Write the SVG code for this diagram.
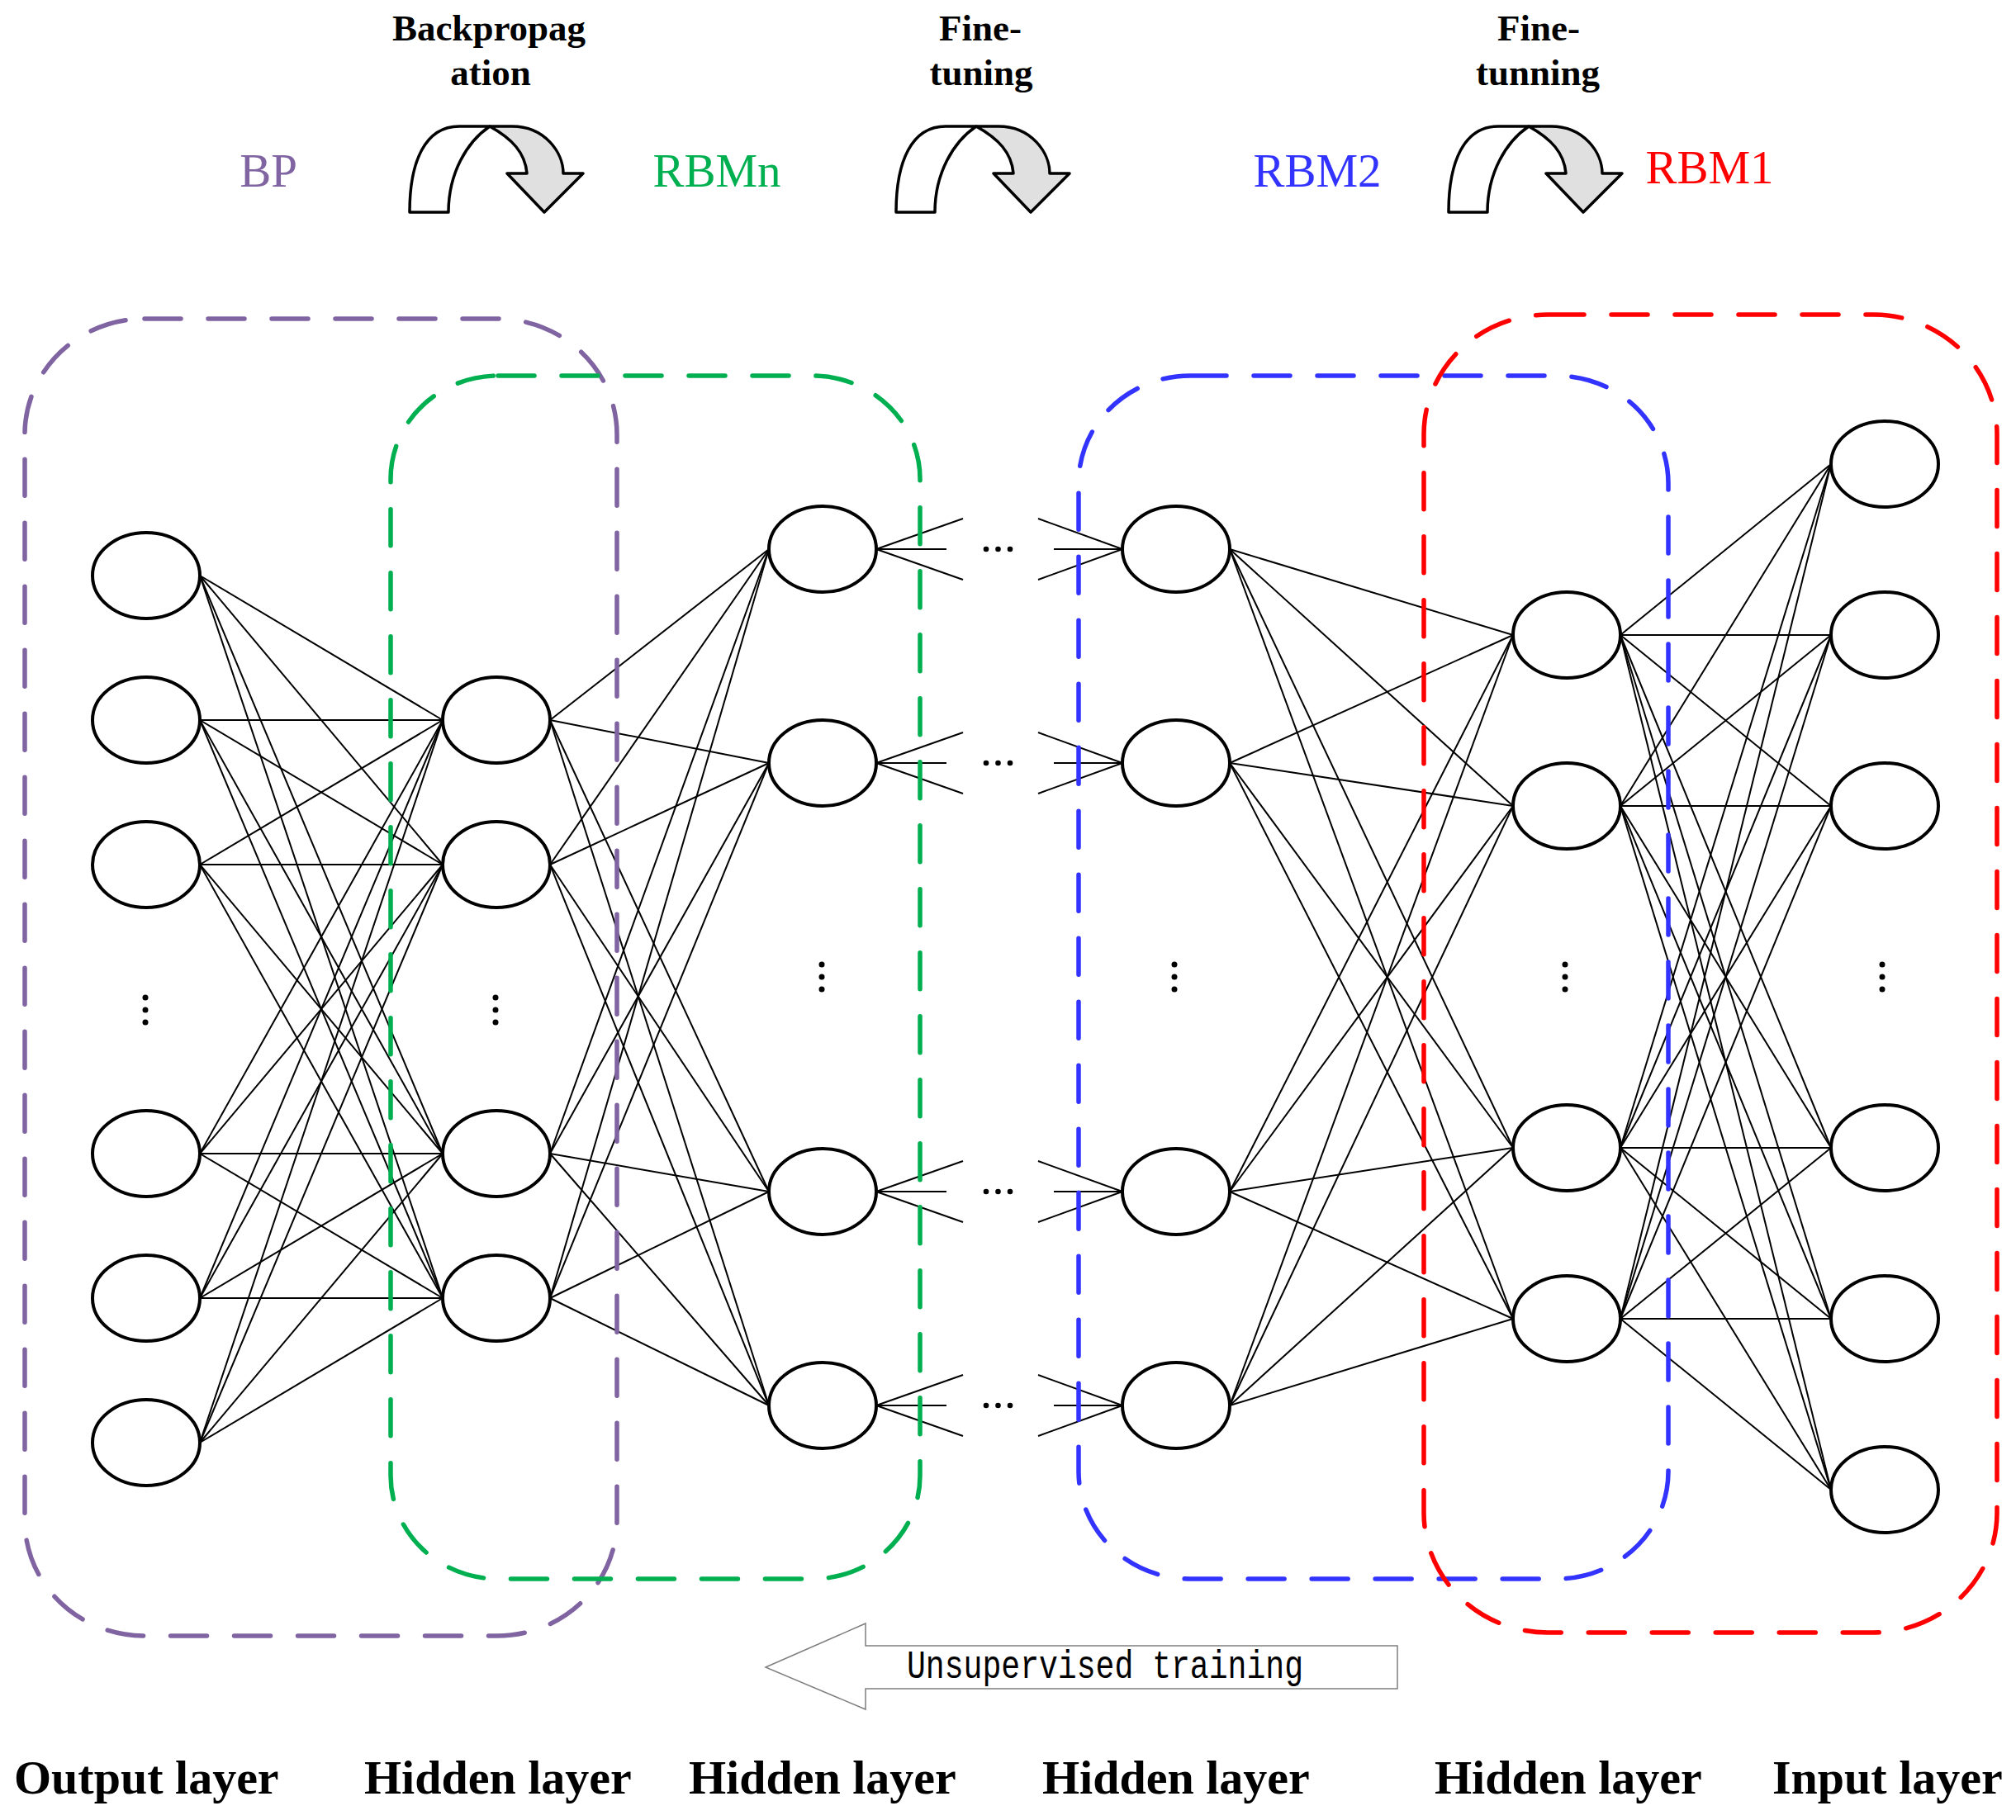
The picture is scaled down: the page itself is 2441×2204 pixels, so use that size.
<svg xmlns="http://www.w3.org/2000/svg" width="2441" height="2204" viewBox="0 0 2441 2204">
<style>
.bg{fill:#ffffff}
.edge{stroke:#000;stroke-width:2;fill:none}
.node{fill:#fff;stroke:#000;stroke-width:4}
.dot{fill:#000}
.box{fill:none;stroke-width:5.5;stroke-dasharray:44 33;stroke-linecap:round}
.cw{fill:#fff;stroke:#000;stroke-width:3.5;stroke-linejoin:round}
.cg{fill:#e0e0e0;stroke:#000;stroke-width:3.5;stroke-linejoin:round}
.hdr{font-family:"Liberation Serif","Times New Roman",serif;font-weight:bold;font-size:45px;fill:#000;text-anchor:middle}
.lbl{font-family:"Liberation Serif","Times New Roman",serif;font-size:57px;text-anchor:middle}
.layer{font-family:"Liberation Serif","Times New Roman",serif;font-weight:bold;font-size:58px;fill:#000}
.mono{font-family:"Liberation Mono","Courier New",monospace;font-size:48px;fill:#000}
</style>
<defs>
<g id="curl">
<path class="cw" d="M496,257 C496,195 515,153 556,153 L593,153 C565,172 543,210 543,257 Z"/>
<path class="cg" d="M593,153 L620,153 C660,153 682,185 682,210 L706,210 L659,257 L614,210 L638,210 C636,185 620,168 593,153 Z"/>
</g>
</defs>
<rect class="bg" x="0" y="0" width="2441" height="2204"/>

<g id="top-labels">
<text class="hdr" x="592" y="49">Backpropag</text>
<text class="hdr" x="594" y="103">ation</text>
<text class="hdr" x="1187" y="49">Fine-</text>
<text class="hdr" x="1188" y="103">tuning</text>
<text class="hdr" x="1863" y="49">Fine-</text>
<text class="hdr" x="1862" y="103">tunning</text>
<text class="lbl" x="325" y="226" fill="#8064A2">BP</text>
<text class="lbl" x="868" y="226" fill="#00B050">RBMn</text>
<text class="lbl" x="1595" y="226" fill="#3333FF">RBM2</text>
<text class="lbl" x="2070" y="222" fill="#FF0000">RBM1</text>
</g>

<g id="curl-arrows">
<use href="#curl"/>
<use href="#curl" transform="translate(589,0)"/>
<use href="#curl" transform="translate(1258,0)"/>
</g>

<g id="connectors">
<line class="edge" x1="242" y1="697" x2="536" y2="872"/>
<line class="edge" x1="242" y1="697" x2="536" y2="1047"/>
<line class="edge" x1="242" y1="697" x2="536" y2="1397"/>
<line class="edge" x1="242" y1="697" x2="536" y2="1572"/>
<line class="edge" x1="242" y1="872" x2="536" y2="872"/>
<line class="edge" x1="242" y1="872" x2="536" y2="1047"/>
<line class="edge" x1="242" y1="872" x2="536" y2="1397"/>
<line class="edge" x1="242" y1="872" x2="536" y2="1572"/>
<line class="edge" x1="242" y1="1047" x2="536" y2="872"/>
<line class="edge" x1="242" y1="1047" x2="536" y2="1047"/>
<line class="edge" x1="242" y1="1047" x2="536" y2="1397"/>
<line class="edge" x1="242" y1="1047" x2="536" y2="1572"/>
<line class="edge" x1="242" y1="1397" x2="536" y2="872"/>
<line class="edge" x1="242" y1="1397" x2="536" y2="1047"/>
<line class="edge" x1="242" y1="1397" x2="536" y2="1397"/>
<line class="edge" x1="242" y1="1397" x2="536" y2="1572"/>
<line class="edge" x1="242" y1="1572" x2="536" y2="872"/>
<line class="edge" x1="242" y1="1572" x2="536" y2="1047"/>
<line class="edge" x1="242" y1="1572" x2="536" y2="1397"/>
<line class="edge" x1="242" y1="1572" x2="536" y2="1572"/>
<line class="edge" x1="242" y1="1747" x2="536" y2="872"/>
<line class="edge" x1="242" y1="1747" x2="536" y2="1047"/>
<line class="edge" x1="242" y1="1747" x2="536" y2="1397"/>
<line class="edge" x1="242" y1="1747" x2="536" y2="1572"/>

<line class="edge" x1="666" y1="872" x2="931" y2="665"/>
<line class="edge" x1="666" y1="872" x2="931" y2="924"/>
<line class="edge" x1="666" y1="872" x2="931" y2="1443"/>
<line class="edge" x1="666" y1="872" x2="931" y2="1702"/>
<line class="edge" x1="666" y1="1047" x2="931" y2="665"/>
<line class="edge" x1="666" y1="1047" x2="931" y2="924"/>
<line class="edge" x1="666" y1="1047" x2="931" y2="1443"/>
<line class="edge" x1="666" y1="1047" x2="931" y2="1702"/>
<line class="edge" x1="666" y1="1397" x2="931" y2="665"/>
<line class="edge" x1="666" y1="1397" x2="931" y2="924"/>
<line class="edge" x1="666" y1="1397" x2="931" y2="1443"/>
<line class="edge" x1="666" y1="1397" x2="931" y2="1702"/>
<line class="edge" x1="666" y1="1572" x2="931" y2="665"/>
<line class="edge" x1="666" y1="1572" x2="931" y2="924"/>
<line class="edge" x1="666" y1="1572" x2="931" y2="1443"/>
<line class="edge" x1="666" y1="1572" x2="931" y2="1702"/>

<line class="edge" x1="1061" y1="665" x2="1166" y2="628"/>
<line class="edge" x1="1061" y1="665" x2="1146" y2="665"/>
<line class="edge" x1="1061" y1="665" x2="1166" y2="702"/>
<line class="edge" x1="1061" y1="924" x2="1166" y2="887"/>
<line class="edge" x1="1061" y1="924" x2="1146" y2="924"/>
<line class="edge" x1="1061" y1="924" x2="1166" y2="961"/>
<line class="edge" x1="1061" y1="1443" x2="1166" y2="1406"/>
<line class="edge" x1="1061" y1="1443" x2="1146" y2="1443"/>
<line class="edge" x1="1061" y1="1443" x2="1166" y2="1480"/>
<line class="edge" x1="1061" y1="1702" x2="1166" y2="1665"/>
<line class="edge" x1="1061" y1="1702" x2="1146" y2="1702"/>
<line class="edge" x1="1061" y1="1702" x2="1166" y2="1739"/>
<line class="edge" x1="1359" y1="665" x2="1257" y2="628"/>
<line class="edge" x1="1359" y1="665" x2="1276" y2="665"/>
<line class="edge" x1="1359" y1="665" x2="1257" y2="702"/>
<line class="edge" x1="1359" y1="924" x2="1257" y2="887"/>
<line class="edge" x1="1359" y1="924" x2="1276" y2="924"/>
<line class="edge" x1="1359" y1="924" x2="1257" y2="961"/>
<line class="edge" x1="1359" y1="1443" x2="1257" y2="1406"/>
<line class="edge" x1="1359" y1="1443" x2="1276" y2="1443"/>
<line class="edge" x1="1359" y1="1443" x2="1257" y2="1480"/>
<line class="edge" x1="1359" y1="1702" x2="1257" y2="1665"/>
<line class="edge" x1="1359" y1="1702" x2="1276" y2="1702"/>
<line class="edge" x1="1359" y1="1702" x2="1257" y2="1739"/>

<line class="edge" x1="1489" y1="665" x2="1832" y2="769"/>
<line class="edge" x1="1489" y1="665" x2="1832" y2="976"/>
<line class="edge" x1="1489" y1="665" x2="1832" y2="1390"/>
<line class="edge" x1="1489" y1="665" x2="1832" y2="1597"/>
<line class="edge" x1="1489" y1="924" x2="1832" y2="769"/>
<line class="edge" x1="1489" y1="924" x2="1832" y2="976"/>
<line class="edge" x1="1489" y1="924" x2="1832" y2="1390"/>
<line class="edge" x1="1489" y1="924" x2="1832" y2="1597"/>
<line class="edge" x1="1489" y1="1443" x2="1832" y2="769"/>
<line class="edge" x1="1489" y1="1443" x2="1832" y2="976"/>
<line class="edge" x1="1489" y1="1443" x2="1832" y2="1390"/>
<line class="edge" x1="1489" y1="1443" x2="1832" y2="1597"/>
<line class="edge" x1="1489" y1="1702" x2="1832" y2="769"/>
<line class="edge" x1="1489" y1="1702" x2="1832" y2="976"/>
<line class="edge" x1="1489" y1="1702" x2="1832" y2="1390"/>
<line class="edge" x1="1489" y1="1702" x2="1832" y2="1597"/>

<line class="edge" x1="1962" y1="769" x2="2217" y2="562"/>
<line class="edge" x1="1962" y1="769" x2="2217" y2="769"/>
<line class="edge" x1="1962" y1="769" x2="2217" y2="976"/>
<line class="edge" x1="1962" y1="769" x2="2217" y2="1390"/>
<line class="edge" x1="1962" y1="769" x2="2217" y2="1597"/>
<line class="edge" x1="1962" y1="769" x2="2217" y2="1804"/>
<line class="edge" x1="1962" y1="976" x2="2217" y2="562"/>
<line class="edge" x1="1962" y1="976" x2="2217" y2="769"/>
<line class="edge" x1="1962" y1="976" x2="2217" y2="976"/>
<line class="edge" x1="1962" y1="976" x2="2217" y2="1390"/>
<line class="edge" x1="1962" y1="976" x2="2217" y2="1597"/>
<line class="edge" x1="1962" y1="976" x2="2217" y2="1804"/>
<line class="edge" x1="1962" y1="1390" x2="2217" y2="562"/>
<line class="edge" x1="1962" y1="1390" x2="2217" y2="769"/>
<line class="edge" x1="1962" y1="1390" x2="2217" y2="976"/>
<line class="edge" x1="1962" y1="1390" x2="2217" y2="1390"/>
<line class="edge" x1="1962" y1="1390" x2="2217" y2="1597"/>
<line class="edge" x1="1962" y1="1390" x2="2217" y2="1804"/>
<line class="edge" x1="1962" y1="1597" x2="2217" y2="562"/>
<line class="edge" x1="1962" y1="1597" x2="2217" y2="769"/>
<line class="edge" x1="1962" y1="1597" x2="2217" y2="976"/>
<line class="edge" x1="1962" y1="1597" x2="2217" y2="1390"/>
<line class="edge" x1="1962" y1="1597" x2="2217" y2="1597"/>
<line class="edge" x1="1962" y1="1597" x2="2217" y2="1804"/>
</g>

<g id="layer-output">
<ellipse id="o1" class="node" cx="177" cy="697" rx="65" ry="52"/>
<ellipse id="o2" class="node" cx="177" cy="872" rx="65" ry="52"/>
<ellipse id="o3" class="node" cx="177" cy="1047" rx="65" ry="52"/>
<ellipse id="o4" class="node" cx="177" cy="1397" rx="65" ry="52"/>
<ellipse id="o5" class="node" cx="177" cy="1572" rx="65" ry="52"/>
<ellipse id="o6" class="node" cx="177" cy="1747" rx="65" ry="52"/>
<circle class="dot" cx="176" cy="1208" r="3.5"/><circle class="dot" cx="176" cy="1223" r="3.5"/><circle class="dot" cx="176" cy="1238" r="3.5"/>
</g>
<g id="layer-hidden1">
<ellipse id="h1a" class="node" cx="601" cy="872" rx="65" ry="52"/>
<ellipse id="h1b" class="node" cx="601" cy="1047" rx="65" ry="52"/>
<ellipse id="h1c" class="node" cx="601" cy="1397" rx="65" ry="52"/>
<ellipse id="h1d" class="node" cx="601" cy="1572" rx="65" ry="52"/>
<circle class="dot" cx="600" cy="1208" r="3.5"/><circle class="dot" cx="600" cy="1223" r="3.5"/><circle class="dot" cx="600" cy="1238" r="3.5"/>
</g>
<g id="layer-hidden2">
<ellipse id="h2a" class="node" cx="996" cy="665" rx="65" ry="52"/>
<ellipse id="h2b" class="node" cx="996" cy="924" rx="65" ry="52"/>
<ellipse id="h2c" class="node" cx="996" cy="1443" rx="65" ry="52"/>
<ellipse id="h2d" class="node" cx="996" cy="1702" rx="65" ry="52"/>
<circle class="dot" cx="995" cy="1168" r="3.5"/><circle class="dot" cx="995" cy="1183" r="3.5"/><circle class="dot" cx="995" cy="1198" r="3.5"/>
</g>
<g id="gap-dots">
<circle class="dot" cx="1194" cy="665" r="3.3"/><circle class="dot" cx="1208.5" cy="665" r="3.3"/><circle class="dot" cx="1223" cy="665" r="3.3"/>
<circle class="dot" cx="1194" cy="924" r="3.3"/><circle class="dot" cx="1208.5" cy="924" r="3.3"/><circle class="dot" cx="1223" cy="924" r="3.3"/>
<circle class="dot" cx="1194" cy="1443" r="3.3"/><circle class="dot" cx="1208.5" cy="1443" r="3.3"/><circle class="dot" cx="1223" cy="1443" r="3.3"/>
<circle class="dot" cx="1194" cy="1702" r="3.3"/><circle class="dot" cx="1208.5" cy="1702" r="3.3"/><circle class="dot" cx="1223" cy="1702" r="3.3"/>
</g>
<g id="layer-hidden3">
<ellipse id="h3a" class="node" cx="1424" cy="665" rx="65" ry="52"/>
<ellipse id="h3b" class="node" cx="1424" cy="924" rx="65" ry="52"/>
<ellipse id="h3c" class="node" cx="1424" cy="1443" rx="65" ry="52"/>
<ellipse id="h3d" class="node" cx="1424" cy="1702" rx="65" ry="52"/>
<circle class="dot" cx="1422" cy="1168" r="3.5"/><circle class="dot" cx="1422" cy="1183" r="3.5"/><circle class="dot" cx="1422" cy="1198" r="3.5"/>
</g>
<g id="layer-hidden4">
<ellipse id="h4a" class="node" cx="1897" cy="769" rx="65" ry="52"/>
<ellipse id="h4b" class="node" cx="1897" cy="976" rx="65" ry="52"/>
<ellipse id="h4c" class="node" cx="1897" cy="1390" rx="65" ry="52"/>
<ellipse id="h4d" class="node" cx="1897" cy="1597" rx="65" ry="52"/>
<circle class="dot" cx="1895" cy="1168" r="3.5"/><circle class="dot" cx="1895" cy="1183" r="3.5"/><circle class="dot" cx="1895" cy="1198" r="3.5"/>
</g>
<g id="layer-input">
<ellipse id="i1" class="node" cx="2282" cy="562" rx="65" ry="52"/>
<ellipse id="i2" class="node" cx="2282" cy="769" rx="65" ry="52"/>
<ellipse id="i3" class="node" cx="2282" cy="976" rx="65" ry="52"/>
<ellipse id="i4" class="node" cx="2282" cy="1390" rx="65" ry="52"/>
<ellipse id="i5" class="node" cx="2282" cy="1597" rx="65" ry="52"/>
<ellipse id="i6" class="node" cx="2282" cy="1804" rx="65" ry="52"/>
<circle class="dot" cx="2279" cy="1168" r="3.5"/><circle class="dot" cx="2279" cy="1183" r="3.5"/><circle class="dot" cx="2279" cy="1198" r="3.5"/>
</g>

<g id="groups">
<rect id="box-bp" class="box" stroke="#8064A2" x="30" y="386" width="717" height="1595" rx="145" ry="140"/>
<rect id="box-rbmn" class="box" stroke="#00B050" x="473" y="455" width="641" height="1457" rx="130" ry="125"/>
<rect id="box-rbm2" class="box" stroke="#3333FF" x="1306" y="455" width="714" height="1457" rx="135" ry="130"/>
<rect id="box-rbm1" class="box" stroke="#FF0000" x="1724" y="381" width="694" height="1596" rx="150" ry="145"/>
</g>

<g id="unsupervised">
<polygon points="927,2019 1048,1966 1048,1993 1692,1993 1692,2045 1048,2045 1048,2070" fill="#fff" stroke="#7f7f7f" stroke-width="1.5"/>
<text class="mono" x="1098" y="2032" textLength="480" lengthAdjust="spacingAndGlyphs">Unsupervised training</text>
</g>

<g id="layer-labels">
<text class="layer" x="17" y="2172">Output layer</text>
<text class="layer" x="441" y="2172">Hidden layer</text>
<text class="layer" x="834" y="2172">Hidden layer</text>
<text class="layer" x="1262" y="2172">Hidden layer</text>
<text class="layer" x="1737" y="2172">Hidden layer</text>
<text class="layer" x="2146" y="2172">Input layer</text>
</g>
</svg>
